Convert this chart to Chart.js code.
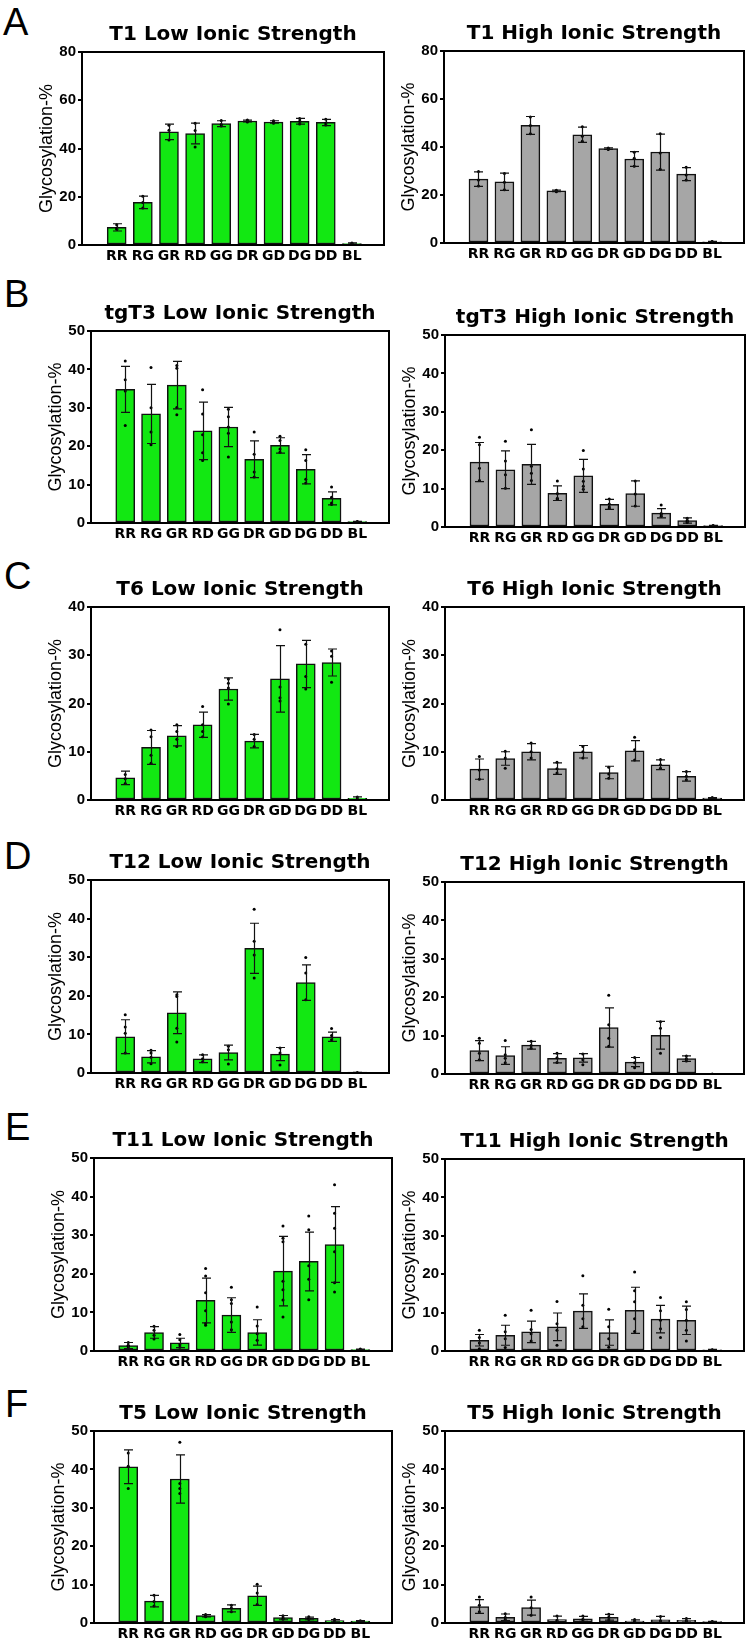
<!DOCTYPE html>
<html>
<head>
<meta charset="utf-8">
<script src="https://cdn.jsdelivr.net/npm/chart.js@4.4.0/dist/chart.umd.min.js"></script>
<style>
  body { margin: 0; background: #fff; width: 753px; height: 1647px; position: relative; overflow: hidden;
         font-family: "Liberation Sans", Arial, sans-serif; }
  .panel { position: absolute; font-size: 38px; line-height: 38px; color: #000; }
  canvas { position: absolute; }
</style>
</head>
<body>
<div class="panel" style="left:3px;top:3px">A</div>
<div class="panel" style="left:4px;top:275px">B</div>
<div class="panel" style="left:4px;top:557px">C</div>
<div class="panel" style="left:4px;top:837px">D</div>
<div class="panel" style="left:5px;top:1108px">E</div>
<div class="panel" style="left:5px;top:1385px">F</div>

<script>
// categorias del eje x
const cats = ['RR', 'RG', 'GR', 'RD', 'GG', 'DR', 'GD', 'DG', 'DD', 'BL'];

// T1
const t1LowMean = [7.3, 17.7, 46.9, 46.2, 50.3, 51.4, 51.0, 51.3, 50.8, 0.6];
const t1LowSd   = [1.5, 2.6, 3.2, 4.3, 1.2, 0.4, 0.5, 1.2, 1.3, 0.3];
const t1LowPts  = [[8.4, 7.0, 6.5], [20.2, 17.6, 15.3], [49.6, 47.6, 43.5], [50.5, 47.5, 40.6], [51.6, 50.0, 49.3],
                   [51.8, 51.4, 51.0], [51.5, 51.0, 50.5], [52.4, 51.3, 50.2], [52.1, 50.6, 49.7], [0.8, 0.6, 0.4]];
const t1HighMean = [26.6, 25.5, 49.0, 21.7, 45.1, 39.3, 35.0, 37.9, 28.7, 0.5];
const t1HighSd   = [3.0, 3.6, 3.7, 0.3, 3.2, 0.35, 3.1, 7.5, 2.7, 0.2];
const t1HighPts  = [[29.8, 26.3, 23.7], [29.0, 25.3, 22.2], [52.5, 49.0, 45.5], [22.0, 21.7, 21.4], [48.4, 44.5, 42.4],
                    [39.6, 39.3, 39.0], [37.8, 35.3, 32.0], [45.5, 37.5, 30.7], [31.6, 28.3, 26.2], [0.6, 0.5, 0.4]];

// tgT3
const tgT3LowMean = [34.8, 28.4, 35.9, 24.0, 25.0, 16.6, 20.2, 14.0, 6.4, 0.35];
const tgT3LowSd   = [6.0, 7.7, 6.2, 7.5, 5.1, 4.8, 2.0, 3.8, 1.7, 0.1];
const tgT3LowPts  = [[42.2, 37.3, 34.4, 25.4], [40.5, 30.0, 23.7, 20.4], [41.0, 40.3, 30.1, 28.2],
                     [34.7, 28.4, 23.0, 18.3, 16.3], [29.6, 27.7, 25.0, 23.4, 17.2], [23.7, 17.9, 13.3, 12.0],
                     [22.6, 21.5, 19.3, 18.4], [19.1, 16.3, 11.4, 10.4], [9.4, 6.7, 5.2, 4.8], [0.4, 0.3]];
const tgT3HighMean = [16.9, 14.9, 16.3, 8.8, 13.3, 5.9, 8.7, 3.6, 1.7, 0.35];
const tgT3HighSd   = [5.1, 4.9, 5.2, 1.9, 4.3, 1.3, 3.3, 1.2, 0.7, 0.1];
const tgT3HighPts  = [[23.4, 21.4, 15.3, 12.1], [22.3, 17.2, 13.6, 10.1], [25.3, 15.8, 14.0, 12.1],
                      [12.0, 8.7, 7.5, 7.2], [19.9, 15.1, 11.9, 10.6, 9.8], [7.3, 6.0, 5.2, 4.8],
                      [12.0, 8.6, 5.5], [5.7, 3.5, 3.2, 2.8], [2.3, 1.7, 1.4, 1.2], [0.4, 0.3]];

// T6
const t6LowMean = [4.6, 10.9, 13.3, 15.6, 23.0, 12.2, 25.1, 28.2, 28.5, 0.35];
const t6LowSd   = [1.4, 3.5, 2.1, 2.6, 2.3, 1.4, 6.9, 4.9, 2.8, 0.3];
const t6LowPts  = [[5.3, 4.4, 3.4], [14.5, 13.1, 9.3, 7.6], [15.6, 14.2, 12.6, 11.1], [19.4, 15.6, 14.2, 13.1],
                   [25.1, 24.2, 23.2, 19.9], [13.6, 12.6, 11.1], [35.3, 23.4, 21.2, 20.5], [32.3, 25.6, 23.0],
                   [30.9, 29.8, 24.4], [0.6, 0.2]];
const t6HighMean = [6.4, 8.6, 10.0, 6.5, 10.0, 5.7, 10.2, 7.3, 4.9, 0.4];
const t6HighSd   = [2.1, 1.4, 1.7, 1.2, 1.3, 1.3, 2.1, 1.0, 1.0, 0.1];
const t6HighPts  = [[9.0, 6.2, 4.3], [10.1, 8.7, 6.6], [11.8, 10.0, 8.7], [7.8, 6.5, 5.6], [11.1, 10.0, 8.7],
                    [6.8, 5.4, 4.5], [13.0, 10.4, 8.3], [8.4, 7.3, 6.6], [5.9, 4.9, 4.2], [0.5, 0.3]];

// T12
const t12LowMean = [9.4, 4.2, 15.6, 3.7, 5.3, 32.3, 4.9, 23.4, 9.4, 0.15];
const t12LowSd   = [4.4, 1.6, 5.4, 1.0, 1.9, 6.5, 1.7, 4.6, 1.2, 0.05];
const t12LowPts  = [[15.1, 11.9, 10.3, 5.2], [5.9, 5.2, 4.1, 2.4], [20.3, 19.8, 11.6, 8.0], [4.7, 3.7, 2.9],
                    [6.9, 6.0, 2.3], [42.4, 34.1, 30.6, 24.6], [6.5, 5.2, 2.1], [29.9, 25.9, 19.0],
                    [11.5, 9.7, 8.6], [0.15]];
const t12HighMean = [6.1, 4.8, 7.5, 4.1, 4.2, 12.1, 3.1, 10.1, 4.0, 0];
const t12HighSd   = [2.6, 2.3, 1.0, 1.2, 1.1, 5.1, 1.2, 3.6, 0.7, 0];
const t12HighPts  = [[9.3, 8.0, 5.4, 3.7], [8.7, 5.0, 4.1, 2.9], [8.5, 7.4, 6.7], [5.4, 4.2, 3.0], [5.2, 3.7, 2.4],
                     [20.5, 12.8, 9.3, 7.2], [4.3, 2.9, 1.6], [13.6, 11.9, 5.4], [4.7, 4.0, 3.4], [0]];

// T11
const t11LowMean = [1.4, 4.8, 2.1, 13.1, 9.3, 4.8, 20.7, 23.2, 27.6, 0.4];
const t11LowSd   = [0.8, 1.5, 1.2, 5.8, 4.5, 3.3, 9.0, 7.6, 9.8, 0.1];
const t11LowPts  = [[2.2, 1.5, 1.2, 0.8], [6.4, 5.4, 4.1, 3.1], [4.3, 2.9, 1.6, 1.0],
                    [21.4, 19.4, 15.1, 10.4, 7.1, 6.7], [16.5, 13.3, 12.3, 7.5, 5.5], [11.4, 6.5, 4.5, 2.8],
                    [32.4, 29.2, 28.3, 18.1, 15.9, 13.2, 8.8], [35.0, 31.4, 22.1, 18.6, 13.3],
                    [43.1, 35.7, 31.8, 25.7, 17.7, 15.3], [0.5, 0.3]];
const t11HighMean = [2.8, 4.1, 5.0, 6.3, 10.4, 4.8, 10.6, 8.3, 8.0, 0.3];
const t11HighSd   = [1.5, 2.6, 2.8, 3.6, 4.5, 3.3, 6.0, 3.6, 3.7, 0.1];
const t11HighPts  = [[5.4, 3.5, 2.1, 0.6], [9.3, 5.0, 3.2, 0.9], [10.6, 5.6, 4.5, 2.6], [12.9, 7.1, 5.4, 1.5],
                     [19.6, 11.9, 8.4, 6.3], [10.9, 6.3, 3.2, 1.0], [20.6, 15.7, 12.8, 8.4, 5.1],
                     [13.9, 10.5, 8.0, 5.8, 3.5], [12.8, 10.8, 8.0, 5.4, 2.6], [0.35, 0.25]];

// T5
const t5LowMean = [40.7, 5.7, 37.5, 1.9, 3.8, 7.1, 1.4, 1.2, 0.6, 0.5];
const t5LowSd   = [4.4, 1.5, 6.3, 0.3, 0.9, 2.5, 0.55, 0.35, 0.3, 0.1];
const t5LowPts  = [[44.3, 40.8, 35.0], [7.2, 5.6, 4.4], [47.1, 36.3, 35.0, 33.7], [2.2, 1.9, 1.6], [4.6, 3.9, 2.9],
                   [10.1, 7.8, 4.8], [1.9, 1.3, 1.0], [1.6, 1.2, 0.9], [1.0, 0.5, 0.35], [0.6, 0.4]];
const t5HighMean = [4.3, 1.5, 4.0, 0.9, 1.1, 1.5, 0.5, 0.8, 0.7, 0.35];
const t5HighSd   = [1.8, 0.85, 1.95, 0.9, 0.65, 0.75, 0.3, 0.9, 0.45, 0.1];
const t5HighPts  = [[6.8, 4.6, 2.9], [2.4, 1.4, 0.9], [6.8, 4.0, 2.0], [1.8, 0.7, 0.2], [1.8, 1.0, 0.5],
                    [2.3, 1.5, 0.8], [0.9, 0.5, 0.3], [1.7, 0.6, 0.1], [1.2, 0.6, 0.3], [0.4, 0.3]];

const VERDE = 'rgb(18, 232, 18)';
const GRIS = 'rgb(166, 166, 166)';
const FUENTE = '"Liberation Sans", Arial, sans-serif';
const FUENTE_ANCHA = '"DejaVu Sans", Verdana, sans-serif';

// medidas del layout (px)
const Y_W = 70;      // ancho del eje y
const TITLE_H = 40;  // alto del titulo
const X_H = 24;      // alto del eje x
const PAD_R = 2;
const X_MIN = -0.75, X_MAX = 9.65;

// barras de error + marco
const errorBarsPlugin = {
  id: 'errorBars',
  afterDatasetsDraw(chart, args, opts) {
    const { ctx, scales: { x, y }, chartArea } = chart;
    ctx.save();
    ctx.strokeStyle = '#111';
    ctx.lineWidth = 1.2;
    opts.mean.forEach((m, i) => {
      const s = opts.sd[i];
      if (!s) return;
      const px = Math.round(x.getPixelForValue(i)) + 0.5;
      const yT = y.getPixelForValue(m + s);
      const yB = y.getPixelForValue(Math.max(m - s, 0));
      ctx.beginPath();
      ctx.moveTo(px, yT); ctx.lineTo(px, yB);
      ctx.moveTo(px - 4.5, yT); ctx.lineTo(px + 4.5, yT);
      ctx.moveTo(px - 4.5, yB); ctx.lineTo(px + 4.5, yB);
      ctx.stroke();
    });
    ctx.strokeStyle = '#000';
    ctx.lineWidth = 2;
    ctx.strokeRect(chartArea.left, chartArea.top, chartArea.right - chartArea.left, chartArea.bottom - chartArea.top);
    ctx.restore();
  }
};

function crearGrafica(p) {
  const f = p.frame;
  const left = f.l - Y_W, top = f.t - TITLE_H;
  const w = f.r - left + PAD_R, h = f.b - top + X_H;
  const cv = document.createElement('canvas');
  cv.width = w; cv.height = h;
  cv.style.left = left + 'px'; cv.style.top = top + 'px';
  cv.style.width = w + 'px'; cv.style.height = h + 'px';
  document.body.appendChild(cv);

  const puntos = [];
  p.pts.forEach((col, i) => col.forEach(v => puntos.push({ x: i, y: v })));

  new Chart(cv, {
    type: 'bar',
    data: {
      datasets: [{
        type: 'bar',
        data: p.mean.map((v, i) => ({ x: i, y: v })),
        backgroundColor: p.color,
        borderColor: '#111',
        borderWidth: 1.5,
        borderSkipped: false,
        barThickness: 19,
        order: 1
      }, {
        type: 'scatter',
        data: puntos,
        pointRadius: 1.5,
        pointBackgroundColor: '#000',
        pointBorderWidth: 0,
        order: 0
      }]
    },
    options: {
      responsive: false,
      animation: false,
      layout: { padding: { left: 0, right: PAD_R, top: 0, bottom: 0 } },
      plugins: {
        legend: { display: false },
        tooltip: { enabled: false },
        title: {
          display: true,
          text: p.title,
          fullSize: false,
          color: '#000',
          font: { family: FUENTE_ANCHA, size: 20, weight: 'bold', lineHeight: 1 },
          padding: { top: TITLE_H - 20 - 7, bottom: 7 }
        },
        errorBars: { mean: p.mean, sd: p.sd }
      },
      scales: {
        x: {
          type: 'linear',
          min: X_MIN,
          max: X_MAX,
          afterBuildTicks: s => { s.ticks = cats.map((c, i) => ({ value: i })); },
          afterFit: s => { s.height = X_H; },
          ticks: {
            callback: v => cats[v],
            autoSkip: false,
            maxRotation: 0,
            color: '#000',
            padding: 3,
            font: { family: FUENTE_ANCHA, size: 14, weight: 'bold' }
          },
          grid: { display: false, drawTicks: false },
          border: { display: false }
        },
        y: {
          min: 0,
          max: p.yMax,
          afterFit: s => { s.width = Y_W; },
          ticks: {
            stepSize: p.step,
            color: '#000',
            padding: 2,
            font: { family: FUENTE, size: 15, weight: 'bold' }
          },
          grid: { drawOnChartArea: false, drawTicks: true, tickLength: 4, color: '#000', lineWidth: 2 },
          border: { display: false },
          title: {
            display: true,
            text: 'Glycosylation-%',
            color: '#000',
            padding: { top: 24, bottom: 0 },
            font: { family: FUENTE, size: 18, weight: 'normal' }
          }
        }
      }
    },
    plugins: [errorBarsPlugin]
  });
}

const paneles = [
  { title: 'T1 Low Ionic Strength', mean: t1LowMean, sd: t1LowSd, pts: t1LowPts, color: VERDE, yMax: 80, step: 20, frame: { l: 82, t: 52, r: 386, b: 245 } },
  { title: 'T1 High Ionic Strength', mean: t1HighMean, sd: t1HighSd, pts: t1HighPts, color: GRIS, yMax: 80, step: 20, frame: { l: 444, t: 51, r: 746, b: 243 } },
  { title: 'tgT3 Low Ionic Strength', mean: tgT3LowMean, sd: tgT3LowSd, pts: tgT3LowPts, color: VERDE, yMax: 50, step: 10, frame: { l: 91, t: 331, r: 391, b: 523 } },
  { title: 'tgT3 High Ionic Strength', mean: tgT3HighMean, sd: tgT3HighSd, pts: tgT3HighPts, color: GRIS, yMax: 50, step: 10, frame: { l: 445, t: 335, r: 747, b: 527 } },
  { title: 'T6 Low Ionic Strength', mean: t6LowMean, sd: t6LowSd, pts: t6LowPts, color: VERDE, yMax: 40, step: 10, frame: { l: 91, t: 607, r: 391, b: 800 } },
  { title: 'T6 High Ionic Strength', mean: t6HighMean, sd: t6HighSd, pts: t6HighPts, color: GRIS, yMax: 40, step: 10, frame: { l: 445, t: 607, r: 746, b: 800 } },
  { title: 'T12 Low Ionic Strength', mean: t12LowMean, sd: t12LowSd, pts: t12LowPts, color: VERDE, yMax: 50, step: 10, frame: { l: 91, t: 880, r: 391, b: 1073 } },
  { title: 'T12 High Ionic Strength', mean: t12HighMean, sd: t12HighSd, pts: t12HighPts, color: GRIS, yMax: 50, step: 10, frame: { l: 445, t: 882, r: 746, b: 1074 } },
  { title: 'T11 Low Ionic Strength', mean: t11LowMean, sd: t11LowSd, pts: t11LowPts, color: VERDE, yMax: 50, step: 10, frame: { l: 94, t: 1158, r: 394, b: 1351 } },
  { title: 'T11 High Ionic Strength', mean: t11HighMean, sd: t11HighSd, pts: t11HighPts, color: GRIS, yMax: 50, step: 10, frame: { l: 445, t: 1159, r: 746, b: 1351 } },
  { title: 'T5 Low Ionic Strength', mean: t5LowMean, sd: t5LowSd, pts: t5LowPts, color: VERDE, yMax: 50, step: 10, frame: { l: 94, t: 1431, r: 394, b: 1623 } },
  { title: 'T5 High Ionic Strength', mean: t5HighMean, sd: t5HighSd, pts: t5HighPts, color: GRIS, yMax: 50, step: 10, frame: { l: 445, t: 1431, r: 746, b: 1623 } }
];

paneles.forEach(crearGrafica);
</script>
</body>
</html>
